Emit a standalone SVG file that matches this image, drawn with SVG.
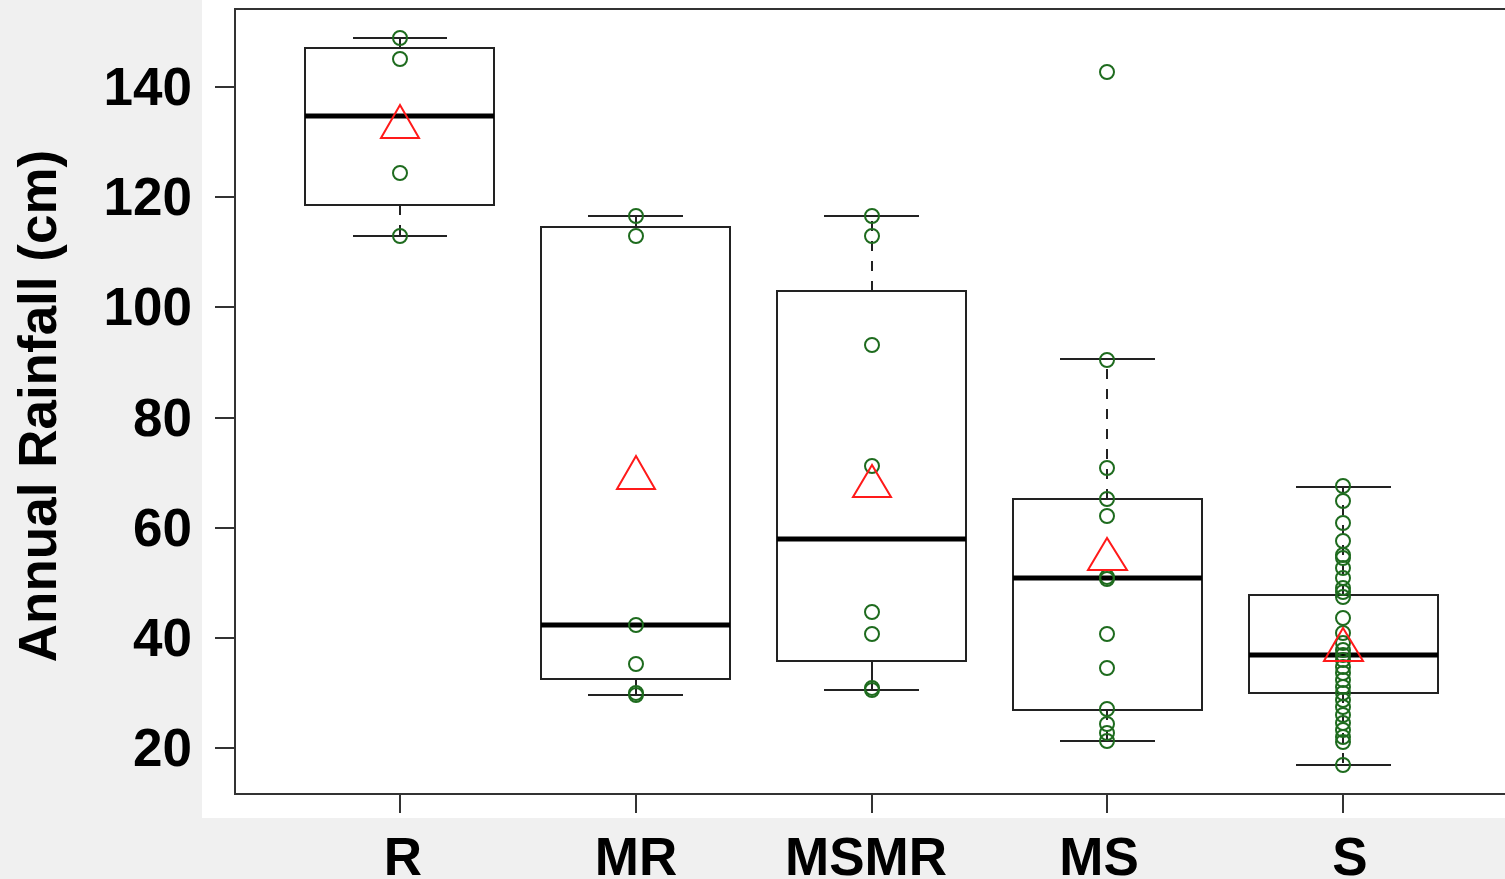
<svg xmlns="http://www.w3.org/2000/svg" width="1505" height="879" viewBox="0 0 1505 879">
<style>
text{font-family:"Liberation Sans",Arial,sans-serif;font-weight:bold;fill:#000}
.tick{font-size:53px;text-anchor:end}
.xl{font-size:53px;text-anchor:middle}
.ax{stroke:#333;stroke-width:2;fill:none}
.box{stroke:#222;stroke-width:2;fill:none}
.med{stroke:#000;stroke-width:5}
.wh{stroke:#222;stroke-width:2}
.dash{stroke:#222;stroke-width:2;stroke-dasharray:10 10}
.pt{fill:none;stroke:#1e6b1e;stroke-width:2}
.mean{fill:none;stroke:#ff1a1a;stroke-width:2}
</style>
<rect x="0" y="0" width="1505" height="879" fill="#f0f0f0"/>
<rect x="202" y="0" width="1303" height="818" fill="#ffffff"/>
<g id="axes">
<path class="ax" d="M1505 9H235V794H1505"/>
<path class="ax" d="M215 87H235M215 197H235M215 307H235M215 418H235M215 528H235M215 638H235M215 748H235"/>
<path class="ax" d="M400 794V813M636 794V813M872 794V813M1107 794V813M1343 794V813"/>
<text class="tick" x="192" y="105">140</text>
<text class="tick" x="192" y="215">120</text>
<text class="tick" x="192" y="325">100</text>
<text class="tick" x="192" y="436">80</text>
<text class="tick" x="192" y="546">60</text>
<text class="tick" x="192" y="656">40</text>
<text class="tick" x="192" y="766">20</text>
<text class="xl" x="403" y="875">R</text>
<text class="xl" x="636" y="875">MR</text>
<text class="xl" x="866" y="875">MSMR</text>
<text class="xl" x="1099" y="875">MS</text>
<text class="xl" x="1350" y="875">S</text>
<text font-size="53" text-anchor="middle" transform="translate(56 406) rotate(-90)">Annual Rainfall (cm)</text>
</g>
<g id="R">
<line class="wh" x1="400" y1="48" x2="400" y2="38"/>
<line class="dash" x1="400" y1="205" x2="400" y2="236"/>
<line class="wh" x1="353" y1="38" x2="447" y2="38"/>
<line class="wh" x1="353" y1="236" x2="447" y2="236"/>
<rect class="box" x="305" y="48" width="189" height="157"/>
<line class="med" x1="305" y1="116" x2="494" y2="116"/>
<circle class="pt" cx="400" cy="38" r="7"/>
<circle class="pt" cx="400" cy="59" r="7"/>
<circle class="pt" cx="400" cy="173" r="7"/>
<circle class="pt" cx="400" cy="236" r="7"/>
<polygon class="mean" points="400,105 381,138 419,138"/>
</g>
<g id="MR">
<line class="wh" x1="636" y1="227" x2="636" y2="216"/>
<line class="wh" x1="636" y1="679" x2="636" y2="695"/>
<line class="wh" x1="588" y1="216" x2="683" y2="216"/>
<line class="wh" x1="588" y1="695" x2="683" y2="695"/>
<rect class="box" x="541" y="227" width="189" height="452"/>
<line class="med" x1="541" y1="625" x2="730" y2="625"/>
<circle class="pt" cx="636" cy="216" r="7"/>
<circle class="pt" cx="636" cy="236" r="7"/>
<circle class="pt" cx="636" cy="625" r="7"/>
<circle class="pt" cx="636" cy="664" r="7"/>
<circle class="pt" cx="636" cy="693" r="7"/>
<circle class="pt" cx="636" cy="695" r="7"/>
<polygon class="mean" points="636,456 617,489 655,489"/>
</g>
<g id="MSMR">
<line class="dash" x1="872" y1="291" x2="872" y2="216"/>
<line class="wh" x1="872" y1="661" x2="872" y2="690"/>
<line class="wh" x1="824" y1="216" x2="919" y2="216"/>
<line class="wh" x1="824" y1="690" x2="919" y2="690"/>
<rect class="box" x="777" y="291" width="189" height="370"/>
<line class="med" x1="777" y1="539" x2="966" y2="539"/>
<circle class="pt" cx="872" cy="216" r="7"/>
<circle class="pt" cx="872" cy="236" r="7"/>
<circle class="pt" cx="872" cy="345" r="7"/>
<circle class="pt" cx="872" cy="466" r="7"/>
<circle class="pt" cx="872" cy="612" r="7"/>
<circle class="pt" cx="872" cy="634" r="7"/>
<circle class="pt" cx="872" cy="688" r="7"/>
<circle class="pt" cx="872" cy="690" r="7"/>
<polygon class="mean" points="872,465 853,497 891,497"/>
</g>
<g id="MS">
<line class="dash" x1="1107" y1="499" x2="1107" y2="359"/>
<line class="dash" x1="1107" y1="710" x2="1107" y2="741"/>
<line class="wh" x1="1060" y1="359" x2="1155" y2="359"/>
<line class="wh" x1="1060" y1="741" x2="1155" y2="741"/>
<rect class="box" x="1013" y="499" width="189" height="211"/>
<line class="med" x1="1013" y1="578" x2="1202" y2="578"/>
<circle class="pt" cx="1107" cy="72" r="7"/>
<circle class="pt" cx="1107" cy="360" r="7"/>
<circle class="pt" cx="1107" cy="468" r="7"/>
<circle class="pt" cx="1107" cy="499" r="7"/>
<circle class="pt" cx="1107" cy="516" r="7"/>
<circle class="pt" cx="1107" cy="577" r="7"/>
<circle class="pt" cx="1107" cy="579" r="7"/>
<circle class="pt" cx="1107" cy="634" r="7"/>
<circle class="pt" cx="1107" cy="668" r="7"/>
<circle class="pt" cx="1107" cy="709" r="7"/>
<circle class="pt" cx="1107" cy="724" r="7"/>
<circle class="pt" cx="1107" cy="733" r="7"/>
<circle class="pt" cx="1107" cy="741" r="7"/>
<polygon class="mean" points="1107,538 1088,570 1127,570"/>
</g>
<g id="S">
<line class="dash" x1="1343" y1="595" x2="1343" y2="487"/>
<line class="dash" x1="1343" y1="693" x2="1343" y2="765"/>
<line class="wh" x1="1296" y1="487" x2="1391" y2="487"/>
<line class="wh" x1="1296" y1="765" x2="1391" y2="765"/>
<rect class="box" x="1249" y="595" width="189" height="98"/>
<line class="med" x1="1249" y1="655" x2="1438" y2="655"/>
<circle class="pt" cx="1343" cy="486" r="7"/>
<circle class="pt" cx="1343" cy="501" r="7"/>
<circle class="pt" cx="1343" cy="523" r="7"/>
<circle class="pt" cx="1343" cy="541" r="7"/>
<circle class="pt" cx="1343" cy="555" r="7"/>
<circle class="pt" cx="1343" cy="558" r="7"/>
<circle class="pt" cx="1343" cy="568" r="7"/>
<circle class="pt" cx="1343" cy="578" r="7"/>
<circle class="pt" cx="1343" cy="588" r="7"/>
<circle class="pt" cx="1343" cy="592" r="7"/>
<circle class="pt" cx="1343" cy="597" r="7"/>
<circle class="pt" cx="1343" cy="618" r="7"/>
<circle class="pt" cx="1343" cy="633" r="7"/>
<circle class="pt" cx="1343" cy="643" r="7"/>
<circle class="pt" cx="1343" cy="650" r="7"/>
<circle class="pt" cx="1343" cy="655" r="7"/>
<circle class="pt" cx="1343" cy="660" r="7"/>
<circle class="pt" cx="1343" cy="667" r="7"/>
<circle class="pt" cx="1343" cy="673" r="7"/>
<circle class="pt" cx="1343" cy="680" r="7"/>
<circle class="pt" cx="1343" cy="687" r="7"/>
<circle class="pt" cx="1343" cy="693" r="7"/>
<circle class="pt" cx="1343" cy="700" r="7"/>
<circle class="pt" cx="1343" cy="707" r="7"/>
<circle class="pt" cx="1343" cy="715" r="7"/>
<circle class="pt" cx="1343" cy="723" r="7"/>
<circle class="pt" cx="1343" cy="730" r="7"/>
<circle class="pt" cx="1343" cy="737" r="7"/>
<circle class="pt" cx="1343" cy="742" r="7"/>
<circle class="pt" cx="1343" cy="765" r="7"/>
<polygon class="mean" points="1343,628 1324,661 1363,661"/>
</g>
</svg>
